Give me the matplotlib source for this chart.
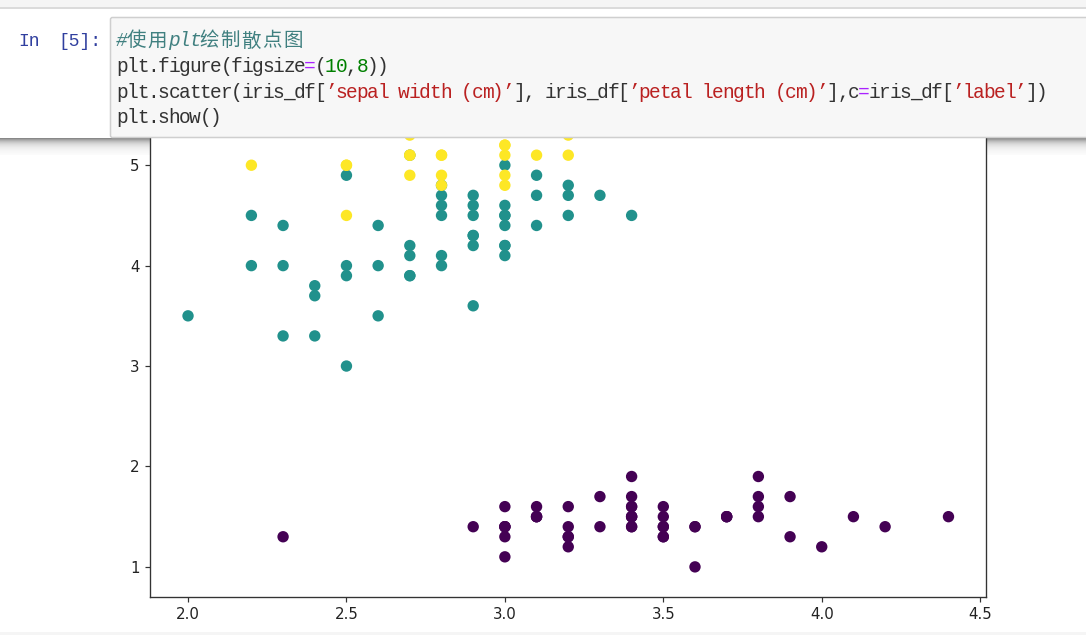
import numpy as np
import matplotlib.pyplot as plt
from matplotlib.patches import Rectangle, FancyBboxPatch

# iris data: sepal width (cm) / petal length (cm), per class
setosa_sw = [3.5, 3.0, 3.2, 3.1, 3.6, 3.9, 3.4, 3.4, 2.9, 3.1,
             3.7, 3.4, 3.0, 3.0, 4.0, 4.4, 3.9, 3.5, 3.8, 3.8,
             3.4, 3.7, 3.6, 3.3, 3.4, 3.0, 3.4, 3.5, 3.4, 3.2,
             3.1, 3.4, 4.1, 4.2, 3.1, 3.2, 3.5, 3.6, 3.0, 3.4,
             3.5, 2.3, 3.2, 3.5, 3.8, 3.0, 3.8, 3.2, 3.7, 3.3]
setosa_pl = [1.4, 1.4, 1.3, 1.5, 1.4, 1.7, 1.4, 1.5, 1.4, 1.5,
             1.5, 1.6, 1.4, 1.1, 1.2, 1.5, 1.3, 1.4, 1.7, 1.5,
             1.7, 1.5, 1.0, 1.7, 1.9, 1.6, 1.6, 1.5, 1.4, 1.6,
             1.6, 1.5, 1.5, 1.4, 1.5, 1.2, 1.3, 1.4, 1.3, 1.5,
             1.3, 1.3, 1.3, 1.6, 1.9, 1.4, 1.6, 1.4, 1.5, 1.4]
versicolor_sw = [3.2, 3.2, 3.1, 2.3, 2.8, 2.8, 3.3, 2.4, 2.9, 2.7,
                 2.0, 3.0, 2.2, 2.9, 2.9, 3.1, 3.0, 2.7, 2.2, 2.5,
                 3.2, 2.8, 2.5, 2.8, 2.9, 3.0, 2.8, 3.0, 2.9, 2.6,
                 2.4, 2.4, 2.7, 2.7, 3.0, 3.4, 3.1, 2.3, 3.0, 2.5,
                 2.6, 3.0, 2.6, 2.3, 2.7, 3.0, 2.9, 2.9, 2.5, 2.8]
versicolor_pl = [4.7, 4.5, 4.9, 4.0, 4.6, 4.5, 4.7, 3.3, 4.6, 3.9,
                 3.5, 4.2, 4.0, 4.7, 3.6, 4.4, 4.5, 4.1, 4.5, 3.9,
                 4.8, 4.0, 4.9, 4.7, 4.3, 4.4, 4.8, 5.0, 4.5, 3.5,
                 3.8, 3.7, 3.9, 5.1, 4.5, 4.5, 4.7, 4.4, 4.1, 4.0,
                 4.4, 4.6, 4.0, 3.3, 4.2, 4.2, 4.2, 4.3, 3.0, 4.1]
virginica_sw = [3.3, 2.7, 3.0, 2.9, 3.0, 3.0, 2.5, 2.9, 2.5, 3.6,
                3.2, 2.7, 3.0, 2.5, 2.8, 3.2, 3.0, 3.8, 2.6, 2.2,
                3.2, 2.8, 2.8, 2.7, 3.3, 3.2, 2.8, 3.0, 2.8, 3.0,
                2.8, 3.8, 2.8, 2.8, 2.6, 3.0, 3.4, 3.1, 3.0, 3.1,
                3.1, 3.1, 2.7, 3.2, 3.3, 3.0, 2.5, 3.0, 3.4, 3.0]
virginica_pl = [6.0, 5.1, 5.9, 5.6, 5.8, 6.6, 4.5, 6.3, 5.8, 6.1,
                5.1, 5.3, 5.5, 5.0, 5.1, 5.3, 5.5, 6.7, 6.9, 5.0,
                5.7, 4.9, 6.7, 4.9, 5.7, 6.0, 4.8, 4.9, 5.6, 5.8,
                6.1, 6.4, 5.6, 5.1, 5.6, 6.1, 5.6, 5.5, 4.8, 5.4,
                5.6, 5.1, 5.1, 5.9, 5.7, 5.2, 5.0, 5.2, 5.4, 5.1]
class_labels = [0, 1, 2]
visible_yticks = [1, 2, 3, 4, 5]

sepal_width = np.array(setosa_sw + versicolor_sw + virginica_sw)
petal_length = np.array(setosa_pl + versicolor_pl + virginica_pl)
label = np.repeat(class_labels, 50)

# notebook cell text
prompt = ['In', '[5]:']
code_lines = [
    [('#使用plt绘制散点图', '#408080')],
    [('plt.figure(figsize', '#333333'), ('=', '#AA22FF'), ('(', '#333333'),
     ('10', '#008000'), (',', '#333333'), ('8', '#008000'), ('))', '#333333')],
    [('plt.scatter(iris_df[', '#333333'), ('’sepal width (cm)’', '#BA2121'),
     ('], iris_df[', '#333333'), ('’petal length (cm)’', '#BA2121'),
     ('],c', '#333333'), ('=', '#AA22FF'), ('iris_df[', '#333333'),
     ('’label’', '#BA2121'), ('])', '#333333')],
    [('plt.show()', '#333333')],
]

W, H, DPI = 1086, 635, 108
fig = plt.figure(figsize=(W / DPI, H / DPI), dpi=DPI, facecolor='white')

# background layer (shadow under the cell)
bg = fig.add_axes([0, 0, 1, 1], zorder=-1)
t = np.arange(0, 18)
shade = 1 - 0.57 * np.exp(-t / 5.0)
bg.imshow(shade.reshape(-1, 1), cmap='gray', vmin=0, vmax=1, origin='upper',
          extent=(0, W, 137 + len(t), 137), aspect='auto', interpolation='bilinear')
bg.set_xlim(0, W)
bg.set_ylim(H, 0)
bg.axis('off')

# the scatter plot (top part runs under the code cell)
ax = fig.add_axes([150 / W, (H - 596.5) / H, (986.5 - 150) / W, (596.5 + 55.2) / H])
ax.scatter(sepal_width, petal_length, c=label, s=42, linewidths=1.1)
ax.set_yticks(visible_yticks)
for sp in ax.spines.values():
    sp.set_linewidth(0.9)
    sp.set_color('#333333')
ax.tick_params(labelsize=10, colors='#333333', labelcolor='#222222')

# foreground layer: notebook chrome
fg = fig.add_axes([0, 0, 1, 1], zorder=10)
fg.patch.set_alpha(0)
fg.set_xlim(0, W)
fg.set_ylim(H, 0)
fg.axis('off')
fg.add_patch(Rectangle((0, 0), W, 137.5, facecolor='white', edgecolor='none'))
fg.add_patch(Rectangle((0, 0), W, 7, facecolor='#f5f5f5', edgecolor='none'))
fg.plot([0, W], [7.5, 7.5], color='#d0d0d0', lw=1)
fg.add_patch(FancyBboxPatch((110.5, 17.5), 1000, 120, boxstyle='round,pad=0,rounding_size=2',
                            facecolor='#f7f7f7', edgecolor='#cfcfcf', lw=1))
fg.add_patch(Rectangle((0, 632), W, 3, facecolor='#f5f5f5', edgecolor='none'))

mono = ['Liberation Mono', 'Noto Sans CJK SC']
fsize = 13

fg.text(18, 46.5, prompt[0], color='#303F9F', family=mono, fontsize=12, va='baseline')
fg.text(58, 46.5, prompt[1], color='#303F9F', family=mono, fontsize=12, va='baseline')

CHAR_W = 10.45
x0, y0, dy = 116, 46.5, 25.6
for i, tokens in enumerate(code_lines):
    col = 0
    for text, color in tokens:
        style = 'italic' if text.startswith('#') else 'normal'
        for ch in text:
            fg.text(x0 + col * CHAR_W, y0 + i * dy, ch, color=color, family=mono,
                    fontsize=fsize, style=style, va='baseline', ha='left')
            col += 2 if ord(ch) > 0x2E80 else 1

fig.savefig('out.png', dpi=DPI)
